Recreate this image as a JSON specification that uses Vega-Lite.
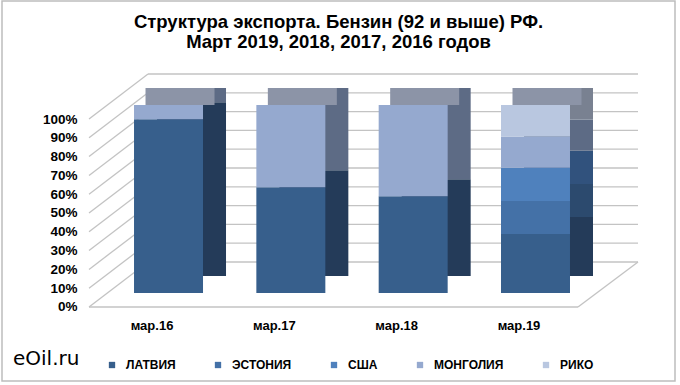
{
  "$schema": "https://vega.github.io/schema/vega-lite/v6.json",
  "width": 673,
  "height": 380,
  "autosize": {"type": "none"},
  "padding": {"left": 2, "top": 1, "right": 5, "bottom": 4},
  "background": "white",
  "config": {
    "view": {"stroke": "#BDBDBD", "strokeWidth": 1.5},
    "font": "Liberation Sans",
    "axisX": {
      "orient": "bottom", "offset": -62, "domain": false, "ticks": false, "tickSize": 0, "grid": false,
      "labelPadding": 0, "labelOffset": -16.5, "labelAngle": 0,
      "labelFont": "Liberation Sans", "labelFontSize": 13, "labelFontWeight": "bold", "labelColor": "#000000"
    },
    "axisY": {
      "offset": -75, "domain": false, "ticks": false, "tickSize": 0, "grid": false,
      "labelPadding": 0, "labelOffset": 14, "labelBound": false, "labelOverlap": false,
      "labelFont": "Liberation Sans", "labelFontSize": 13.5, "labelFontWeight": "bold", "labelColor": "#000000"
    }
  },
  "title": {
    "text": ["Структура экспорта. Бензин (92 и выше) РФ.", "Март 2019, 2018, 2017, 2016 годов"],
    "font": "Liberation Sans",
    "fontSize": 18.5,
    "fontWeight": "bold",
    "color": "#000000",
    "anchor": "middle",
    "frame": "group",
    "baseline": "top",
    "lineHeight": 20,
    "offset": -50
  },
  "datasets": {
    "shares": [
      {"month": "мар.16", "country": "ЛАТВИЯ", "ord": 1, "share": 0.924},
      {"month": "мар.16", "country": "МОНГОЛИЯ", "ord": 4, "share": 0.076},
      {"month": "мар.17", "country": "ЛАТВИЯ", "ord": 1, "share": 0.562},
      {"month": "мар.17", "country": "МОНГОЛИЯ", "ord": 4, "share": 0.438},
      {"month": "мар.18", "country": "ЛАТВИЯ", "ord": 1, "share": 0.515},
      {"month": "мар.18", "country": "МОНГОЛИЯ", "ord": 4, "share": 0.485},
      {"month": "мар.19", "country": "ЛАТВИЯ", "ord": 1, "share": 0.314},
      {"month": "мар.19", "country": "ЭСТОНИЯ", "ord": 2, "share": 0.176},
      {"month": "мар.19", "country": "США", "ord": 3, "share": 0.176},
      {"month": "мар.19", "country": "МОНГОЛИЯ", "ord": 4, "share": 0.167},
      {"month": "мар.19", "country": "РИКО", "ord": 5, "share": 0.167}
    ],
    "grid": [
      {"v": 0}, {"v": 0.1}, {"v": 0.2}, {"v": 0.3}, {"v": 0.4}, {"v": 0.5},
      {"v": 0.6}, {"v": 0.7}, {"v": 0.8}, {"v": 0.9}, {"v": 1}
    ]
  },
  "resolve": {"scale": {"color": "independent"}},
  "layer": [
    {
      "data": {"name": "grid"},
      "mark": {"type": "rule", "color": "#C3C3C3", "strokeWidth": 1.3, "xOffset": -20.5, "x2Offset": 102.5, "yOffset": -31},
      "encoding": {
        "x": {"datum": "мар.16", "bandPosition": 0.5, "title": null},
        "x2": {"datum": "мар.19", "bandPosition": 0.5},
        "y": {"field": "v", "type": "quantitative", "title": null}
      }
    },
    {
      "data": {"name": "grid"},
      "mark": {"type": "rule", "color": "#C3C3C3", "strokeWidth": 1.3, "xOffset": -79.5, "x2Offset": -20.5, "yOffset": 14, "y2Offset": -31},
      "encoding": {
        "x": {"datum": "мар.16", "bandPosition": 0.5, "title": null},
        "x2": {"datum": "мар.16", "bandPosition": 0.5},
        "y": {"field": "v", "type": "quantitative", "title": null},
        "y2": {"field": "v"}
      }
    },
    {
      "data": {"name": "grid"},
      "transform": [{"filter": "datum.v == 0"}],
      "mark": {"type": "rule", "color": "#C3C3C3", "strokeWidth": 1.3, "xOffset": -79.5, "x2Offset": 42.5, "yOffset": 14},
      "encoding": {
        "x": {"datum": "мар.16", "bandPosition": 0.5, "title": null},
        "x2": {"datum": "мар.19", "bandPosition": 0.5},
        "y": {"field": "v", "type": "quantitative", "title": null}
      }
    },
    {
      "data": {"name": "grid"},
      "transform": [{"filter": "datum.v == 0"}],
      "mark": {"type": "rule", "color": "#C3C3C3", "strokeWidth": 1.3, "xOffset": 102.5, "x2Offset": 42.5, "yOffset": -31, "y2Offset": 14},
      "encoding": {
        "x": {"datum": "мар.19", "bandPosition": 0.5, "title": null},
        "x2": {"datum": "мар.19", "bandPosition": 0.5},
        "y": {"field": "v", "type": "quantitative", "title": null},
        "y2": {"field": "v"}
      }
    },
    {
      "data": {"name": "shares"},
      "mark": {"type": "bar", "xOffset": 23, "yOffset": -17},
      "encoding": {
        "x": {"field": "month", "type": "nominal", "title": null},
        "y": {"field": "share", "type": "quantitative", "stack": "zero", "title": null},
        "order": {"field": "ord", "type": "quantitative", "sort": "ascending"},
        "color": {
          "field": "country", "type": "nominal", "legend": null,
          "scale": {
            "domain": ["ЛАТВИЯ", "ЭСТОНИЯ", "США", "МОНГОЛИЯ", "РИКО"],
            "range": ["#243B59", "#2C4A6E", "#31527D", "#5D6B85", "#798191"]
          }
        }
      }
    },
    {
      "data": {"name": "shares"},
      "transform": [{"aggregate": [{"op": "sum", "field": "share", "as": "total"}], "groupby": ["month"]}],
      "mark": {"type": "tick", "color": "#8C94A7", "opacity": 1, "thickness": 17, "size": 69, "xOffset": 11.5, "yOffset": -8.5},
      "encoding": {
        "x": {"field": "month", "type": "nominal", "title": null},
        "y": {"field": "total", "type": "quantitative", "title": null}
      }
    },
    {
      "data": {"name": "shares"},
      "mark": {"type": "bar"},
      "encoding": {
        "x": {
          "field": "month", "type": "nominal", "title": null,
          "sort": ["мар.16", "мар.17", "мар.18", "мар.19"],
          "scale": {"paddingInner": 0.436, "paddingOuter": 0.9688, "align": 0.557},
          "axis": {"title": null, "orient": "bottom", "offset": -62, "labelOffset": -16.5, "labelPadding": 0, "ticks": false, "domain": false}
        },
        "y": {
          "field": "share", "type": "quantitative", "stack": "zero", "title": null,
          "scale": {"domain": [-0.4681, 1.5532], "nice": false, "zero": false},
          "axis": {
            "title": null, "values": [0, 0.1, 0.2, 0.3, 0.4, 0.5, 0.6, 0.7, 0.8, 0.9, 1], "tickCount": 20, "format": ".0%",
            "offset": -75, "labelOffset": 14, "labelPadding": 0, "ticks": false, "domain": false, "grid": false,
            "labelOverlap": false, "labelBound": false
          }
        },
        "order": {"field": "ord", "type": "quantitative", "sort": "ascending"},
        "color": {
          "field": "country", "type": "nominal",
          "scale": {
            "domain": ["ЛАТВИЯ", "ЭСТОНИЯ", "США", "МОНГОЛИЯ", "РИКО"],
            "range": ["#375F8C", "#4471A7", "#4F81BD", "#95A9CF", "#B9C7E0"]
          },
          "legend": {
            "title": "eOil.ru", "orient": "none", "direction": "horizontal",
            "legendX": 11, "legendY": 358,
            "titleOrient": "left", "titleAnchor": "start", "titleFont": "DejaVu Sans", "titleFontSize": 20, "titleFontWeight": "normal",
            "titleColor": "#000000", "titlePadding": 26, "titleBaseline": "middle",
            "symbolType": "square", "symbolSize": 40, "symbolStrokeWidth": 0,
            "labelFont": "Liberation Sans", "labelFontSize": 12, "labelFontWeight": "bold", "labelColor": "#000000",
            "labelOffset": 8, "columnPadding": 36
          }
        }
      }
    }
  ]
}
